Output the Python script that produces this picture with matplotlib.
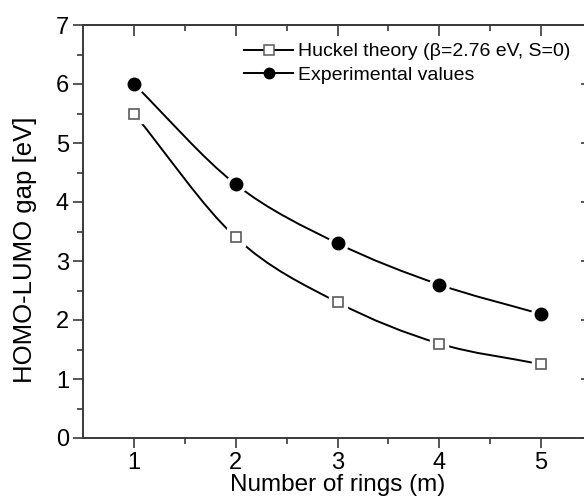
import numpy as np
import matplotlib
matplotlib.use('Agg')
import matplotlib.pyplot as plt
from matplotlib.path import Path
from matplotlib.patches import PathPatch

plt.rcParams['font.family'] = ['Liberation Sans', 'DejaVu Sans']

# HOMO-LUMO gaps of the acene series
rings = [1, 2, 3, 4, 5]
huckel = [5.5, 3.4, 2.3, 1.6, 1.25]
experimental = [6.0, 4.3, 3.3, 2.6, 2.1]

huckel_label = 'Huckel theory (\u03b2=2.76 eV, S=0)'
exp_label = 'Experimental values'

AXIS_COLOR = '#3a3a3a'


def smooth_path(xs, ys, ax):
    # Catmull-Rom through the points, written as cubic Bezier segments
    p = np.column_stack([xs, ys]).astype(float)
    pts = np.vstack([2 * p[0] - p[1], p, 2 * p[-1] - p[-2]])
    verts = [tuple(pts[1])]
    codes = [Path.MOVETO]
    for i in range(1, len(pts) - 2):
        c1 = pts[i] + (pts[i + 1] - pts[i - 1]) / 6
        c2 = pts[i + 1] - (pts[i + 2] - pts[i]) / 6
        verts += [tuple(c1), tuple(c2), tuple(pts[i + 1])]
        codes += [Path.CURVE4] * 3
    patch = PathPatch(Path(verts, codes), facecolor='none', edgecolor='black',
                      lw=1.4, transform=ax.transData, zorder=2)
    ax.add_patch(patch)


fig = plt.figure(figsize=(5.84, 5.0), dpi=100)
ax = fig.add_axes([83 / 584, 62 / 500, 509 / 584, 413 / 500])

smooth_path(rings, huckel, ax)
smooth_path(rings, experimental, ax)

# white halos leave a small gap between the curve and each symbol
ax.plot(rings, huckel, ls='none', marker='s', ms=12.5, mfc='white', mec='white', zorder=3)
ax.plot(rings, experimental, ls='none', marker='o', ms=14, mfc='white', mec='white', zorder=3)
ax.plot(rings, huckel, ls='none', marker='s', ms=7.5, mfc='white', mec='#5a5a5a',
        mew=1.2, zorder=4)
ax.plot(rings, experimental, ls='none', marker='o', ms=9, mfc='black', mec='black',
        zorder=4)

# legend entries
h1, = ax.plot([], [], color='black', lw=1.4, marker='s', ms=6.5, mfc='white',
              mec='#5a5a5a', mew=1.1)
h2, = ax.plot([], [], color='black', lw=1.4, marker='o', ms=7.5, mfc='black', mec='black')
ax.legend([h1, h2], [huckel_label, exp_label], loc='upper left',
          bbox_to_anchor=(0.29, 0.99), frameon=False, fontsize=14,
          handlelength=2.5, handletextpad=0.25, labelspacing=0.3, borderpad=0.2)

ax.set_xlim(0.5, 5.5)
ax.set_ylim(0, 7)
ax.set_xticks([1, 2, 3, 4, 5])
ax.set_xticks([1.5, 2.5, 3.5, 4.5], minor=True)
ax.set_yticks(range(0, 8))
ax.set_yticks(np.arange(0.5, 7, 1.0), minor=True)

# bottom / left ticks point outward
ax.tick_params(axis='both', which='both', labelsize=17, width=1.2,
               color=AXIS_COLOR, labelcolor='black', direction='out')
ax.tick_params(which='major', length=7)
ax.tick_params(which='minor', length=4)
ax.tick_params(axis='x', which='major', pad=3)
ax.tick_params(axis='y', which='major', pad=3)

# top / right ticks point into the plot
top = ax.secondary_xaxis('top')
top.set_xticks([1, 2, 3, 4, 5])
top.set_xticks([1.5, 2.5, 3.5, 4.5], minor=True)
top.tick_params(which='both', direction='in', labeltop=False, width=1.2, color=AXIS_COLOR)
top.tick_params(which='major', length=8)
top.tick_params(which='minor', length=4)
right = ax.secondary_yaxis('right')
right.set_yticks(range(0, 8))
right.set_yticks(np.arange(0.5, 7, 1.0), minor=True)
right.tick_params(which='both', direction='in', labelright=False, width=1.2, color=AXIS_COLOR)
right.tick_params(which='major', length=8)
right.tick_params(which='minor', length=4)

for s in list(ax.spines.values()) + [top.spines['top'], right.spines['right']]:
    s.set_linewidth(1.4)
    s.set_color(AXIS_COLOR)

ax.set_xlabel('Number of rings (m)', fontsize=17.5, labelpad=0)
ax.set_ylabel('HOMO-LUMO gap [eV]', fontsize=18.5)
ax.yaxis.set_label_coords(-0.09, 0.455)

fig.savefig('out.png', dpi=100)
